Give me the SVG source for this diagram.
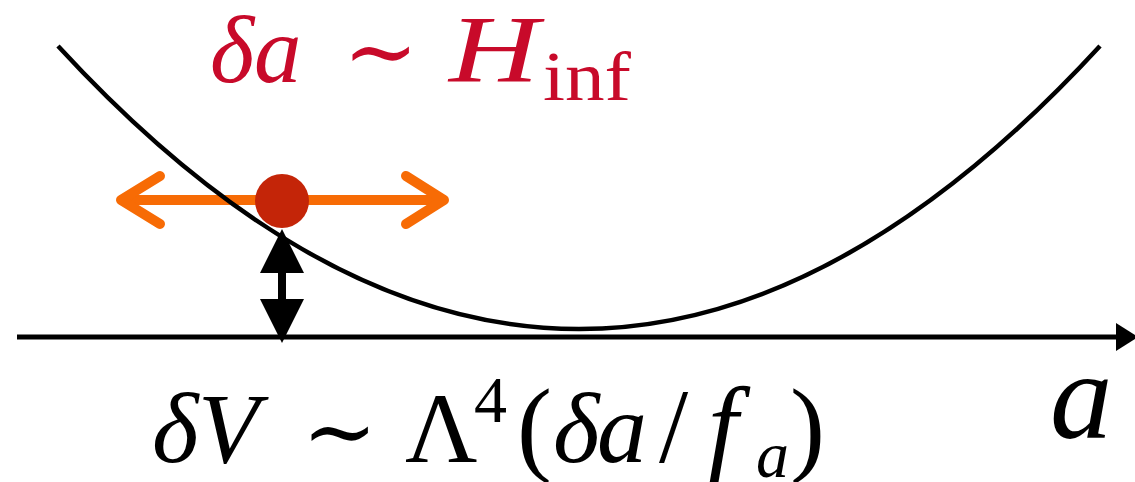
<svg xmlns="http://www.w3.org/2000/svg" width="1135" height="482" viewBox="0 0 1135 482">
<style>
.it{font-family:"Liberation Serif","Times New Roman",serif;font-style:italic}
.up{font-family:"Liberation Serif","Times New Roman",serif}
.sym{font-family:"DejaVu Serif",serif}
.red{fill:#C80A2A}
.blk{fill:#000}
</style>
<rect width="1135" height="482" fill="#fff"/>
<g id="connectors">
  <g id="orange-arrow" fill="none" stroke="#F76B05" stroke-width="10" stroke-linecap="round" stroke-linejoin="round">
    <line x1="122" y1="200" x2="443" y2="200"/>
    <polyline points="160,176 121,200 160,224"/>
    <polyline points="406,176 444,200 406,224"/>
  </g>
  <g id="axis">
    <line x1="17" y1="337" x2="1120" y2="337" stroke="#000" stroke-width="5"/>
    <polygon points="1116,323 1138,337 1116,351" fill="#000"/>
  </g>
  <path id="potential" d="M58,46 Q579,612 1100,46" fill="none" stroke="#000" stroke-width="4.5"/>
  <g id="dv-arrow" fill="#000">
    <rect x="278" y="270" width="8" height="32"/>
    <polygon points="282,229 260,273 304,273"/>
    <polygon points="260,299 304,299 282,343"/>
  </g>
</g>
<g id="ball">
  <circle cx="282" cy="201" r="27" fill="#C42508"/>
</g>
<g id="label-da" class="red">
  <text class="it" x="210" y="82" font-size="95">δ</text>
  <text class="it" x="254" y="82" font-size="95">a</text>
  <text class="sym" x="343" y="82" font-size="90">∼</text>
  <text class="it" x="449" y="82" font-size="95" textLength="90" lengthAdjust="spacingAndGlyphs">H</text>
  <text class="up" x="543" y="100" font-size="70" textLength="88" lengthAdjust="spacingAndGlyphs">inf</text>
</g>
<g id="label-dV" class="blk">
  <text class="it" x="152" y="462" font-size="100">δ</text>
  <text class="it" x="198" y="462" font-size="100">V</text>
  <text class="sym" x="302" y="462" font-size="90">∼</text>
  <text class="up" x="405" y="462" font-size="100">Λ</text>
  <text class="up" x="474" y="422" font-size="66">4</text>
  <text class="up" x="517" y="462" font-size="105">(</text>
  <text class="it" x="553" y="462" font-size="100">δ</text>
  <text class="it" x="597" y="462" font-size="100">a</text>
  <text class="up" x="659" y="462" font-size="105">/</text>
  <text class="it" x="708" y="462" font-size="108">f</text>
  <text class="it" x="756" y="477" font-size="66">a</text>
  <text class="up" x="790" y="462" font-size="105">)</text>
</g>
<g id="label-a" class="blk">
  <text class="it" x="1050" y="438" font-size="125">a</text>
</g>
</svg>
